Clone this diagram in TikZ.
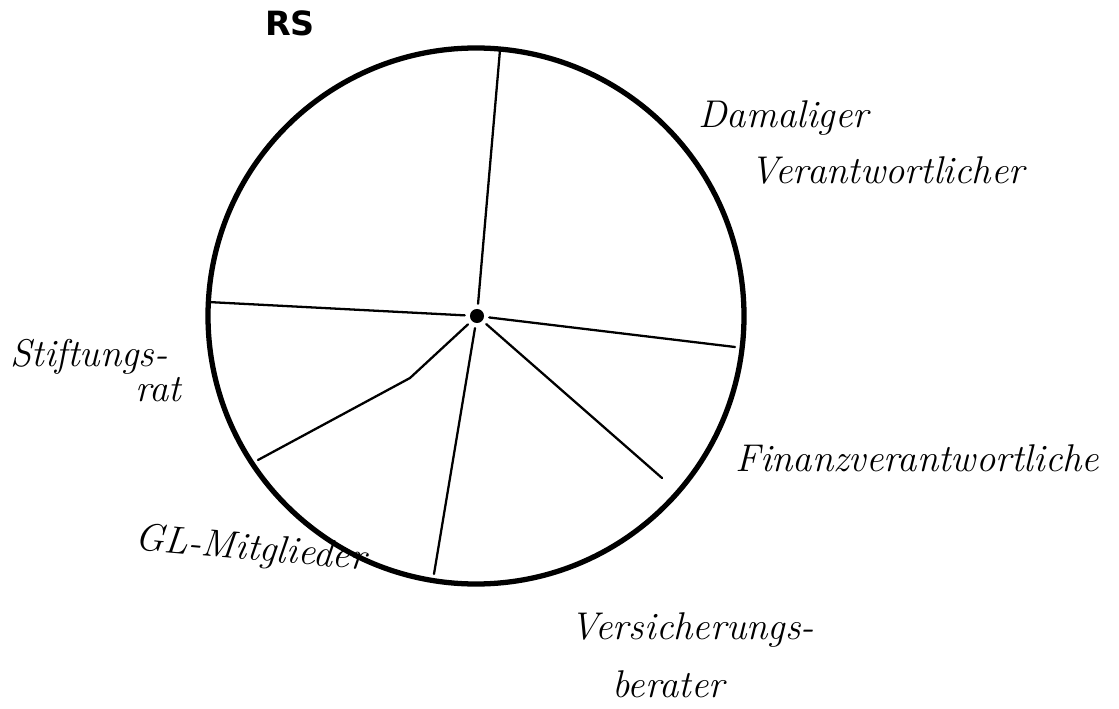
\documentclass[tikz,border=0pt]{standalone}
\usepackage{fontspec}
\newfontfamily\rsfont{DejaVu Sans}
\usetikzlibrary{positioning}
\tikzset{hand/.style={font=\itshape\fontsize{22}{26}\selectfont, inner sep=0pt, anchor=west},
  rim/.style={line width=3pt},
  spoke/.style={line width=1.3pt, line cap=round}}

\begin{document}
\begin{tikzpicture}[x=0.02cm, y=-0.02cm]
    \useasboundingbox (0,0) rectangle (1119,709);
    \draw[rim] (476,316) circle (268);
    \node[circle, fill, minimum size=8pt, inner sep=0pt, outer sep=3pt] (ctr) at (477,316) {};
    \coordinate (top) at (500,50);
    \coordinate (fin) at (735,347);
    \coordinate (ver) at (662,478);
    \coordinate (gl) at (434,574);
    \coordinate (kink) at (410,378);
    \coordinate (sti) at (258,460);
    \coordinate (lft) at (208,302);
    \draw[spoke] (ctr) -- (top);
    \draw[spoke] (ctr) -- (fin);
    \draw[spoke] (ctr) -- (ver);
    \draw[spoke] (ctr) -- (gl);
    \draw[spoke] (ctr) -- (kink) -- (sti);
    \draw[spoke] (ctr) -- (lft);
    \node[font=\rsfont\bfseries\fontsize{19}{22}\selectfont, inner sep=0pt] (rs) at (290,23) {RS};
    \node[hand] (dam1) at (698,118) {Damaliger};
    \node[hand] (dam2) at (750,170) {Verantwortlicher};
    \node[hand] (finlab) at (735,458) {Finanzverantwortliche};
    \node[hand] (ver1) at (570,630) {Versicherungs-};
    \node[hand] (ver2) at (612,684) {berater};
    \node[hand, rotate=-5] (gllab) at (135,540) {GL-Mitglieder};
    \node[hand] (sti1) at (10,357) {Stiftungs-};
    \node[hand] (sti2) at (135,390) {rat};
\end{tikzpicture}
\end{document}
